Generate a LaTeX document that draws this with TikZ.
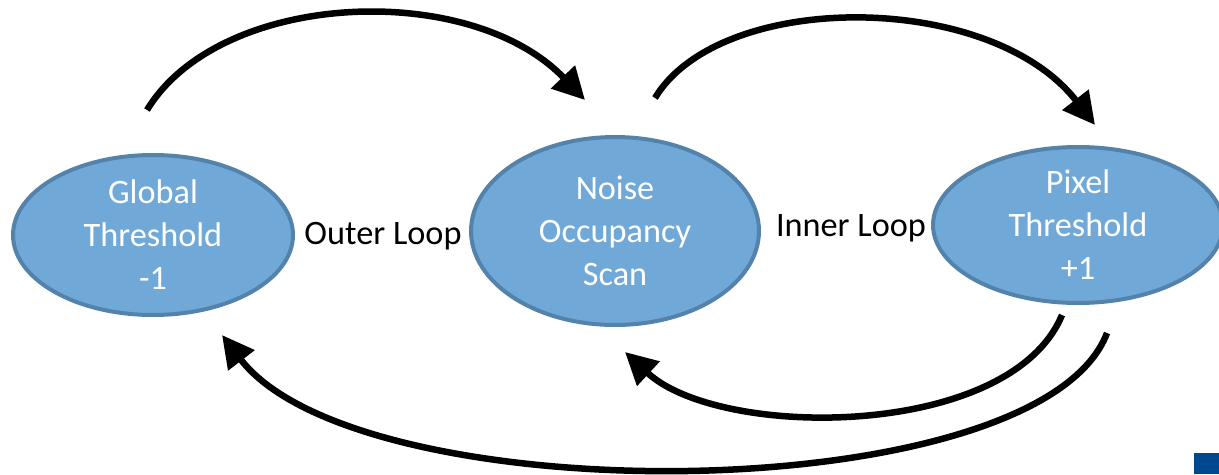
\documentclass[tikz,border=0pt]{standalone}
\usepackage{fontspec}
\setmainfont{Carlito}
\usetikzlibrary{shapes.geometric,arrows.meta}

\definecolor{ovalfill}{RGB}{112,169,215}
\definecolor{ovalline}{RGB}{83,130,170}
\definecolor{cornerblue}{RGB}{0,71,145}

\tikzset{
  oval/.style={ellipse, draw=ovalline, line width=0.08cm, fill=ovalfill,
    text=white, align=center, inner sep=0pt},
  looplabel/.style={text=black},
  looparrow/.style={line width=0.13cm,
    -{Triangle[length=0.64cm,width=0.64cm]}},
}

\begin{document}
\begin{tikzpicture}[x=0.02cm, y=-0.02cm,
    font=\fontsize{19.5}{24.5}\selectfont]
\useasboundingbox (0,0) rectangle (1219,474);

% ---- the three ovals ----
\node[oval, minimum width=5.6cm, minimum height=3.2cm] (glob) at (153,235)
  {Global\\Threshold\\-1};
\node[oval, minimum width=5.76cm, minimum height=3.76cm] (noise) at (615,231)
  {Noise\\Occupancy\\Scan};
\node[oval, minimum width=5.8cm, minimum height=3.12cm] (pixel) at (1078,225)
  {Pixel\\Threshold\\+1};

% ---- loop labels ----
\node[looplabel] (outer) at (383,236) {Outer Loop};
\node[looplabel] (inner) at (851,228) {Inner Loop};

% ---- free ends of the arrows ----
\coordinate (globtop)    at (147,110);
\coordinate (noisetopl)  at (585,100);
\coordinate (noisetopr)  at (655,98);
\coordinate (pixeltop)   at (1095,125);
\coordinate (pixelbotl)  at (1062,315);
\coordinate (noisebot)   at (625,352);
\coordinate (pixelbotr)  at (1107,333);
\coordinate (globbot)    at (222,335);

% ---- arrows ----
\draw[looparrow] (globtop) .. controls (220,-10) and (470,-20) .. (noisetopl);
\draw[looparrow] (noisetopr) .. controls (720,-10) and (990,-10) .. (pixeltop);
\draw[looparrow] (pixelbotl) .. controls (1010,440) and (720,440) .. (noisebot);
\draw[looparrow] (pixelbotr) .. controls (1040,510) and (360,515) .. (globbot);

% ---- corner mark ----
\fill[cornerblue] (1194,453) rectangle (1219,474);
\end{tikzpicture}
\end{document}
